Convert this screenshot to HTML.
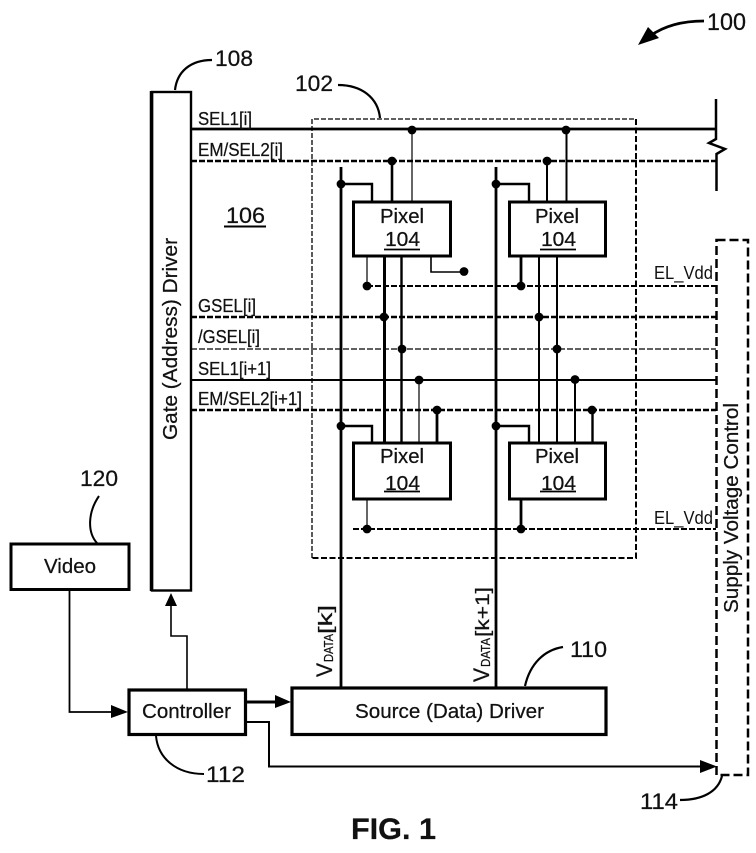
<!DOCTYPE html>
<html><head><meta charset="utf-8"><style>
html,body{margin:0;padding:0;background:#fff;width:756px;height:853px;overflow:hidden}
svg{display:block}
text{font-family:"Liberation Sans",sans-serif;fill:#111;stroke:#111;stroke-width:.25}
</style></head><body>
<svg width="756" height="853" viewBox="0 0 756 853" xmlns="http://www.w3.org/2000/svg">
<g fill="none" stroke="#000">
<!-- region 102 -->
<path d="M312 558V119H636" stroke-width="1.3" stroke-dasharray="5 2"/>
<path d="M636 119V558H312" stroke-width="2" stroke-dasharray="6 2.5"/>
<!-- supply box -->
<rect x="716.5" y="240" width="31.5" height="535" stroke-width="2.5" stroke-dasharray="9 4"/>
<!-- horizontals -->
<path d="M191 129H716" stroke-width="2.8"/>
<path d="M191 161H716" stroke-width="2.4" stroke-dasharray="6 2"/>
<path d="M191 317H716" stroke-width="2.4" stroke-dasharray="6 2"/>
<path d="M191 349H716" stroke-width="1.2" stroke-dasharray="6 2"/>
<path d="M191 380H716" stroke-width="2"/>
<path d="M191 410H716" stroke-width="2.4" stroke-dasharray="6 2"/>
<path d="M367 286H716" stroke-width="2" stroke-dasharray="6 2"/>
<path d="M353 529H716" stroke-width="2" stroke-dasharray="6 2"/>
<!-- break -->
<path d="M716 99V139L709 143L725 149L716.500 154V191" stroke-width="2.5"/>
<!-- data lines -->
<path d="M341 167V688M496 167V688" stroke-width="2.8"/>
<!-- pixel 1 wires -->
<path d="M412 129V201" stroke-width="1.2"/>
<path d="M392 161V201" stroke-width="2.6"/>
<path d="M341 184H372V201" stroke-width="2.4"/>
<path d="M367 256V286" stroke-width="1.2"/>
<path d="M384.500 256V442" stroke-width="3"/>
<path d="M401.500 256V442" stroke-width="2.4"/>
<path d="M431 256V272H464" stroke-width="1.6"/>
<!-- pixel 2 wires -->
<path d="M566.500 129V201" stroke-width="2"/>
<path d="M547 161V201" stroke-width="2"/>
<path d="M496 184H529V201" stroke-width="2.4"/>
<path d="M521 256V286" stroke-width="2.8"/>
<path d="M539 256V442" stroke-width="2"/>
<path d="M557 256V442" stroke-width="2"/>
<!-- pixel 3 wires -->
<path d="M419 380V442" stroke-width="1.2"/>
<path d="M437 410V442" stroke-width="2.8"/>
<path d="M341 426H372V442" stroke-width="2.4"/>
<path d="M367 499V529" stroke-width="1.2"/>
<!-- pixel 4 wires -->
<path d="M575 380V442" stroke-width="2"/>
<path d="M592.500 410V442" stroke-width="2.4"/>
<path d="M496 426H529V442" stroke-width="2.4"/>
<path d="M521 499V529" stroke-width="2.8"/>
<!-- boxes -->
<g fill="#fff">
<rect x="353.500" y="202" width="97" height="54" stroke-width="3"/>
<rect x="509.500" y="202" width="96" height="54" stroke-width="3"/>
<rect x="353.500" y="443" width="97" height="56" stroke-width="3"/>
<rect x="509.500" y="443" width="96" height="56" stroke-width="3"/>
<rect x="152" y="92" width="39" height="498.500" stroke-width="2.4"/>
<rect x="11" y="544" width="118" height="45.500" stroke-width="3"/>
<rect x="129" y="690" width="116.500" height="44.500" stroke-width="3.200"/>
<rect x="292" y="688" width="314" height="46.500" stroke-width="3.200"/>
</g>
<path d="M151.500 91V591" stroke-width="3.500"/>
<!-- connectors -->
<path d="M69.500 590V712H116" stroke-width="1.800"/>
<path d="M187 689V636H171V604" stroke-width="1.600"/>
<path d="M246 702H280" stroke-width="3"/>
<path d="M246 722H269V766.500H704" stroke-width="2"/>
<!-- leaders -->
<path d="M156 736C158 758 176 774 204 774" stroke-width="2"/>
<path d="M525 686C530 664 544 650 563 647" stroke-width="2.200"/>
<path d="M722 776C718 792 702 800 680 800" stroke-width="2.200"/>
<path d="M175 90C177 72 190 60 212 60" stroke-width="2.200"/>
<path d="M338 85C362 85 378 98 380 118" stroke-width="2.200"/>
<path d="M99 496C88 512 87 532 97 543" stroke-width="2"/>
<path d="M704 21C682 21 664 26 650 36" stroke-width="2.800"/>
</g>
<g fill="#000">
<!-- dots -->
<circle cx="412" cy="130" r="4.400"/><circle cx="392" cy="161" r="4.400"/><circle cx="341" cy="184" r="4.400"/>
<circle cx="566" cy="130" r="4.400"/><circle cx="547" cy="161" r="4.400"/><circle cx="496" cy="184" r="4.400"/>
<circle cx="367" cy="286" r="4.400"/><circle cx="464" cy="271.500" r="4.400"/><circle cx="521" cy="286" r="4.400"/>
<circle cx="384" cy="317" r="4.400"/><circle cx="539" cy="317" r="4.400"/>
<circle cx="402" cy="349" r="4.400"/><circle cx="557" cy="349" r="4.400"/>
<circle cx="419" cy="380" r="4.400"/><circle cx="575" cy="379.500" r="4.400"/>
<circle cx="437" cy="410" r="4.400"/><circle cx="592" cy="410" r="4.400"/>
<circle cx="341" cy="426" r="4.400"/><circle cx="496" cy="426" r="4.400"/>
<circle cx="367" cy="529" r="4.400"/><circle cx="521" cy="529" r="4.400"/>
<!-- arrowheads -->
<path d="M111 705L128 712L111 718Z"/>
<path d="M171 593L177 606H165Z"/>
<path d="M275 695L291 702L275 708Z"/>
<path d="M700 760L717 766.500L700 773Z"/>
<path d="M638 45L648 27L659 38Z"/>
</g>
<!-- numbers -->
<g font-size="22">
<text x="707" y="30" textLength="39" lengthAdjust="spacingAndGlyphs" font-size="24">100</text>
<text x="215" y="66" textLength="38" lengthAdjust="spacingAndGlyphs">108</text>
<text x="295" y="91" textLength="38" lengthAdjust="spacingAndGlyphs">102</text>
<text x="80" y="486" textLength="38" lengthAdjust="spacingAndGlyphs">120</text>
<text x="570" y="657" textLength="37" lengthAdjust="spacingAndGlyphs">110</text>
<text x="206" y="782" textLength="39" lengthAdjust="spacingAndGlyphs">112</text>
<text x="640" y="809" textLength="38" lengthAdjust="spacingAndGlyphs">114</text>
<text x="226" y="223" textLength="39" lengthAdjust="spacingAndGlyphs">106</text>
</g>
<path d="M224 226.500H266" stroke="#000" stroke-width="2"/>
<text x="351" y="839" font-size="30" font-weight="bold" textLength="85" lengthAdjust="spacingAndGlyphs">FIG. 1</text>
<!-- signal labels -->
<g font-size="18">
<text x="198" y="125" textLength="54" lengthAdjust="spacingAndGlyphs">SEL1[i]</text>
<text x="198" y="156" textLength="85" lengthAdjust="spacingAndGlyphs">EM/SEL2[i]</text>
<text x="198" y="312" textLength="58" lengthAdjust="spacingAndGlyphs">GSEL[i]</text>
<text x="198" y="343" textLength="62" lengthAdjust="spacingAndGlyphs">/GSEL[i]</text>
<text x="198" y="375" textLength="73" lengthAdjust="spacingAndGlyphs">SEL1[i+1]</text>
<text x="198" y="405" textLength="104" lengthAdjust="spacingAndGlyphs">EM/SEL2[i+1]</text>
<text x="654" y="279" textLength="59" lengthAdjust="spacingAndGlyphs" style="stroke-width:0">EL_Vdd</text>
<text x="654" y="524" textLength="59" lengthAdjust="spacingAndGlyphs" style="stroke-width:0">EL_Vdd</text>
</g>
<!-- pixel text -->
<g font-size="20">
<text x="380" y="223" textLength="44" lengthAdjust="spacingAndGlyphs">Pixel</text>
<text x="385" y="246" textLength="35" lengthAdjust="spacingAndGlyphs">104</text>
<text x="535" y="223" textLength="44" lengthAdjust="spacingAndGlyphs">Pixel</text>
<text x="541" y="246" textLength="35" lengthAdjust="spacingAndGlyphs">104</text>
<text x="380" y="463" textLength="44" lengthAdjust="spacingAndGlyphs">Pixel</text>
<text x="385" y="490" textLength="35" lengthAdjust="spacingAndGlyphs">104</text>
<text x="535" y="463" textLength="44" lengthAdjust="spacingAndGlyphs">Pixel</text>
<text x="541" y="490" textLength="35" lengthAdjust="spacingAndGlyphs">104</text>
<text x="44" y="573" textLength="52" lengthAdjust="spacingAndGlyphs">Video</text>
<text x="142" y="718" textLength="89" lengthAdjust="spacingAndGlyphs">Controller</text>
<text x="355" y="718" textLength="189" lengthAdjust="spacingAndGlyphs">Source (Data) Driver</text>
</g>
<path d="M384 249.500H420M540 249.500H576M384 491.500H420M540 491.500H576" stroke="#000" stroke-width="1.800"/>
<!-- rotated -->
<text transform="translate(177 440) rotate(-90)" font-size="20.500" textLength="202" lengthAdjust="spacingAndGlyphs">Gate (Address) Driver</text>
<text transform="translate(738 613) rotate(-90)" font-size="20.500" textLength="210" lengthAdjust="spacingAndGlyphs">Supply Voltage Control</text>
<text transform="translate(332 677) rotate(-90)" font-size="22" textLength="14" lengthAdjust="spacingAndGlyphs">V</text>
<text transform="translate(333 662) rotate(-90)" font-size="13" textLength="28" lengthAdjust="spacingAndGlyphs">DATA</text>
<text transform="translate(332 634) rotate(-90)" font-size="19" textLength="29" lengthAdjust="spacingAndGlyphs">[k]</text>
<text transform="translate(489 682) rotate(-90)" font-size="22" textLength="14" lengthAdjust="spacingAndGlyphs">V</text>
<text transform="translate(490 667) rotate(-90)" font-size="13" textLength="29" lengthAdjust="spacingAndGlyphs">DATA</text>
<text transform="translate(489 637) rotate(-90)" font-size="19" textLength="50" lengthAdjust="spacingAndGlyphs">[k+1]</text>
</svg>
</body></html>
